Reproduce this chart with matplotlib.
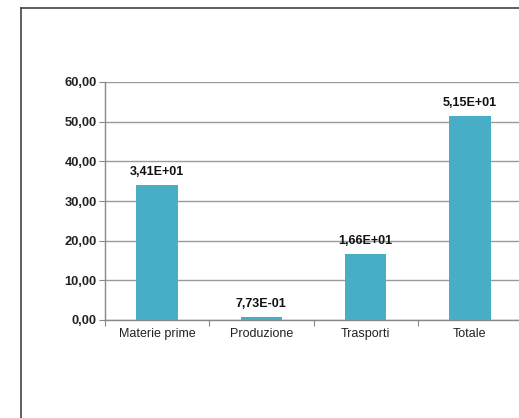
import matplotlib
matplotlib.use("Agg")
import matplotlib.pyplot as plt
from matplotlib.lines import Line2D
import numpy as np

categories = ["Materie prime", "Produzione", "Trasporti", "Totale"]
values = [34.1, 0.773, 16.6, 51.5]
yticks = [0, 10, 20, 30, 40, 50, 60]

plt.rcParams["font.family"] = ["Liberation Sans", "DejaVu Sans"]

fig = plt.figure(figsize=(5.19, 4.18), dpi=100)
ax = fig.add_axes([105 / 519, 1 - 320 / 418, 417 / 519, 238 / 418])

x = np.arange(len(categories))
bar_color = "#48ADC7"
ax.bar(x, values, width=0.4, color=bar_color, zorder=3)

for xi, v in zip(x, values):
    label = ("%.2E" % v).replace(".", ",")
    ax.text(xi, v + 1.7, label, ha="center", va="bottom",
            fontsize=9, fontweight="bold", color="#111111")

ax.set_xlim(-0.5, len(categories) - 0.5)
ax.set_ylim(0, 60)
ax.set_yticks(yticks)
ax.set_yticklabels([f"{t:.2f}".replace(".", ",") for t in yticks],
                   fontsize=9.3, fontweight="bold", color="#222222")
ax.yaxis.grid(True, color="#9a9a9a", linewidth=1.0, zorder=0)

ax.set_xticks(x)
ax.set_xticklabels(categories, fontsize=9, color="#222222")
ax.tick_params(axis="x", length=0, pad=6)
ax.tick_params(axis="y", length=4, color="#888888", width=0.8, pad=2)

# category separator ticks on the x axis
ax.set_xticks(np.arange(len(categories) + 1) - 0.5, minor=True)
ax.tick_params(axis="x", which="minor", length=4, color="#888888", width=0.8)

for side in ["top", "right"]:
    ax.spines[side].set_visible(False)
for side in ["left", "bottom"]:
    ax.spines[side].set_color("#888888")
    ax.spines[side].set_linewidth(1.0)

# outer chart frame
fig.add_artist(Line2D([20.5 / 519, 20.5 / 519], [0, 1 - 8 / 418],
                      transform=fig.transFigure, color="#444444", linewidth=1.2))
fig.add_artist(Line2D([20.5 / 519, 1], [1 - 8 / 418, 1 - 8 / 418],
                      transform=fig.transFigure, color="#444444", linewidth=1.2))

fig.savefig("out.png", dpi=100)
